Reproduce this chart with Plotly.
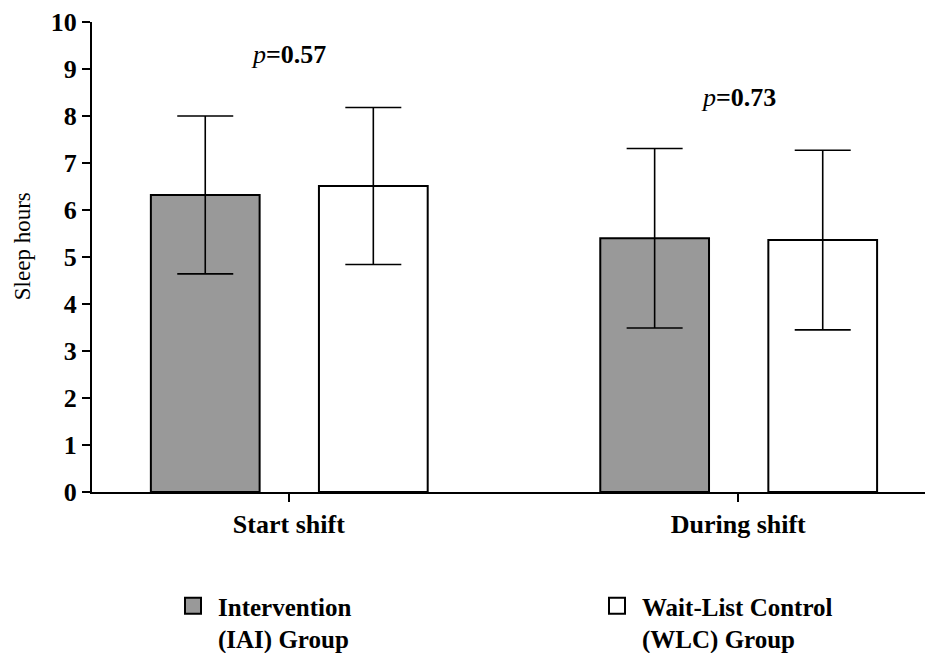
import plotly.graph_objects as go

categories = ["Start shift", "During shift"]
cat_pos = [0, 1]
iai_mean = [6.32, 5.40]
iai_sd = [1.68, 1.91]
wlc_mean = [6.51, 5.36]
wlc_sd = [1.67, 1.91]
p_values = ["0.57", "0.73"]
p_y = [9.3, 8.4]
group_names = ["Intervention<br>(IAI) Group", "Wait-List Control<br>(WLC) Group"]
group_colors = ["#999999", "white"]
y_title = "Sleep hours"

FONT = "Liberation Serif"

fig = go.Figure()
fig.add_trace(go.Bar(
    x=cat_pos, y=iai_mean, name=group_names[0], showlegend=False,
    width=0.242, offset=-0.307,
    marker=dict(color=group_colors[0], line=dict(color="black", width=2)),
    error_y=dict(type="data", array=iai_sd, visible=True, color="black", thickness=1.6, width=28),
))
fig.add_trace(go.Bar(
    x=cat_pos, y=wlc_mean, name=group_names[1], showlegend=False,
    width=0.242, offset=0.067,
    marker=dict(color=group_colors[1], line=dict(color="black", width=2)),
    error_y=dict(type="data", array=wlc_sd, visible=True, color="black", thickness=1.6, width=28),
))
# legend keys (square swatches)
for nm, col, lg in zip(group_names, group_colors, ["legend", "legend2"]):
    fig.add_trace(go.Scatter(
        x=[None], y=[None], mode="markers", name=nm, legend=lg,
        marker=dict(symbol="square", size=22, color=col, line=dict(color="black", width=2)),
    ))

for xp, pv, yy in zip(cat_pos, p_values, p_y):
    fig.add_annotation(x=xp, y=yy, text="<i>p</i><b>=" + pv + "</b>", showarrow=False,
                       font=dict(family=FONT, size=26, color="black"))

# y-axis title
fig.add_annotation(xref="paper", yref="paper", x=(22 - 92) / 833, y=0.523, text=y_title,
                   textangle=-90, showarrow=False, xanchor="center", yanchor="middle",
                   font=dict(family=FONT, size=23, color="black"))

leg_common = dict(xref="container", yref="container", xanchor="left", yanchor="top",
                  valign="top", itemsizing="trace", itemwidth=40,
                  font=dict(family=FONT, size=25, color="black", weight="bold"),
                  bgcolor="rgba(0,0,0,0)")
fig.update_layout(
    width=925, height=653,
    margin=dict(l=92, r=0, t=22, b=161, autoexpand=False),
    plot_bgcolor="white", paper_bgcolor="white",
    font=dict(family=FONT, color="black"),
    showlegend=True,
    legend=dict(x=168/925, y=1-583/653, **leg_common),
    legend2=dict(x=592/925, y=1-583/653, **leg_common),
)
fig.update_xaxes(
    range=[-0.438, 1.4156], tickvals=cat_pos, ticktext=categories,
    showline=True, linecolor="black", linewidth=2, automargin=False,
    ticks="outside", ticklen=8, tickwidth=2, tickcolor="black",
    tickfont=dict(family=FONT, size=26, color="black", weight="bold"),
    showgrid=False, zeroline=False,
)
fig.update_yaxes(
    range=[0, 10], tickvals=list(range(0, 11)),
    showline=True, linecolor="black", linewidth=2, automargin=False,
    ticks="outside", ticklen=8, tickwidth=2, tickcolor="black",
    tickfont=dict(family=FONT, size=26, color="black", weight="bold"),
    showgrid=False, zeroline=False,
)

fig.write_html("out.html")
